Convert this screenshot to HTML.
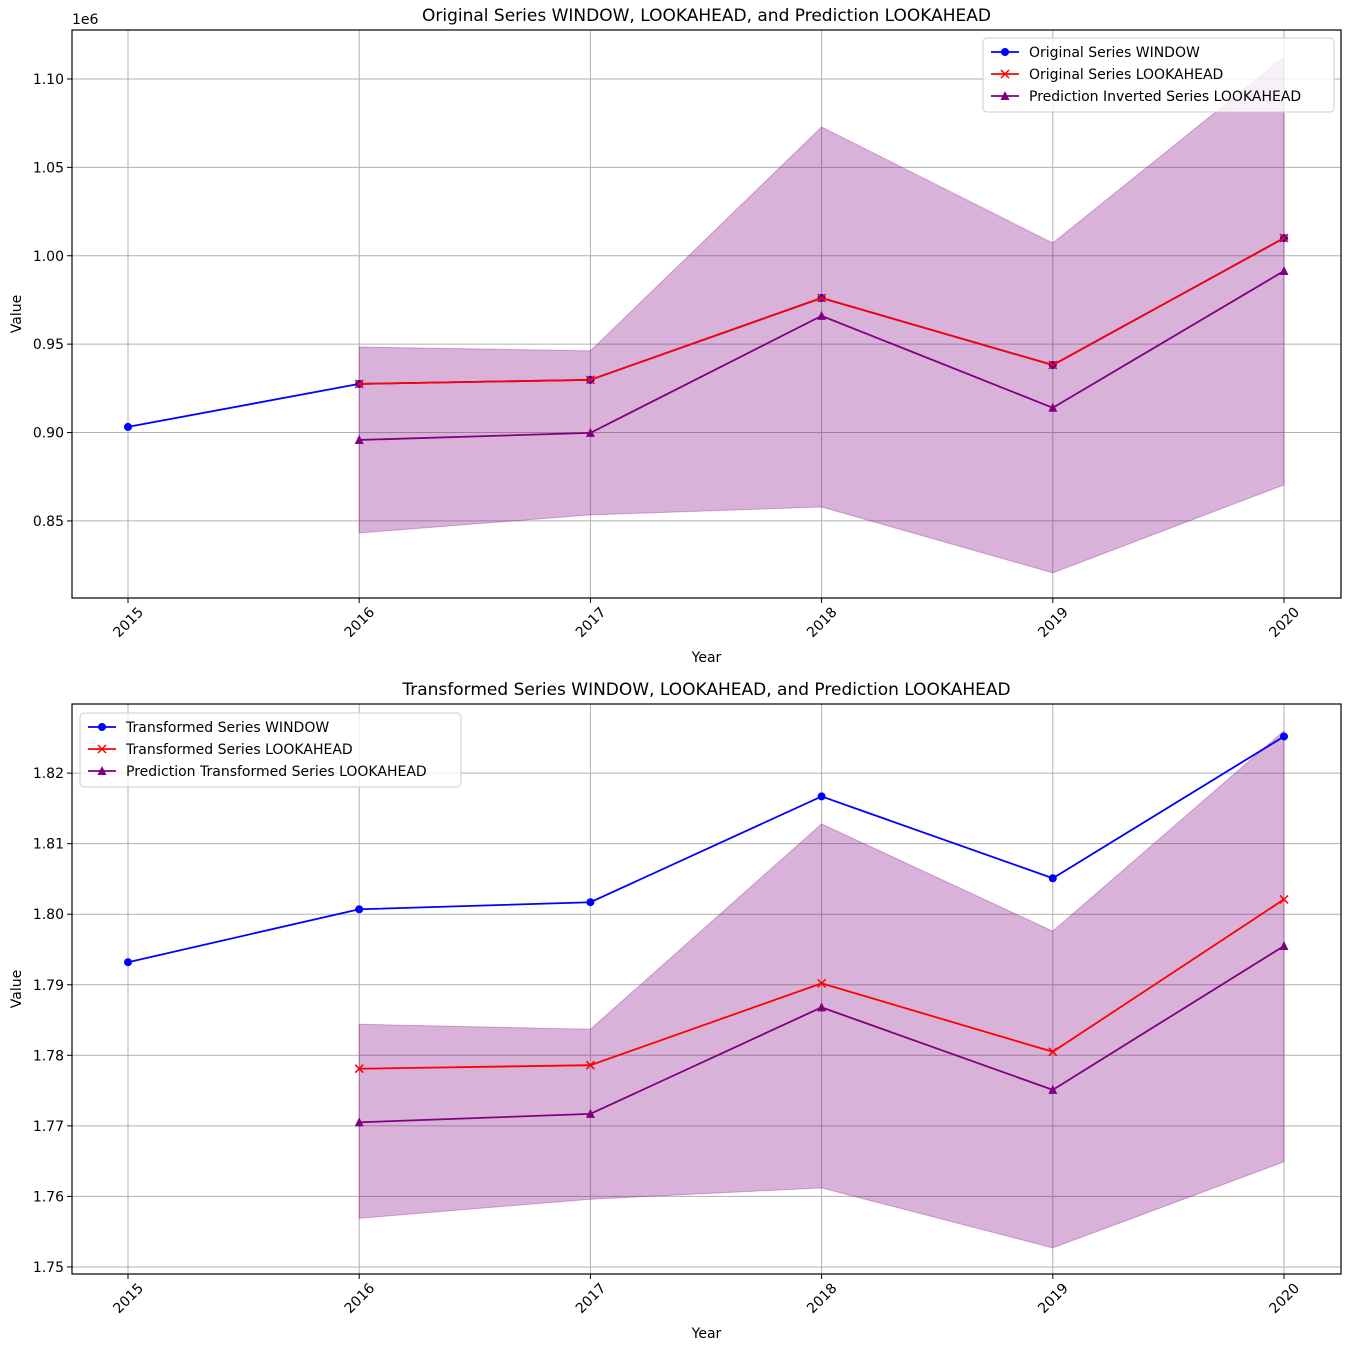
<!DOCTYPE html>
<html><head><meta charset="utf-8"><style>
html,body{margin:0;padding:0;background:#fff;}
svg text{font-family:"DejaVu Sans","Liberation Sans",sans-serif;fill:#000;}
</style></head><body>
<svg id="c" width="1350" height="1350" viewBox="0 0 1350 1350" xmlns="http://www.w3.org/2000/svg"></svg>
<script>
const years=[2015,2016,2017,2018,2019,2020];
const topWindow=[0.9032,0.9275,0.9298,0.9761,0.9382,1.010];
const topLook=[null,0.9275,0.9298,0.9761,0.9382,1.010];
const topPred=[null,0.8958,0.8998,0.966,0.914,0.9914];
const topUpper=[null,0.9484,0.9462,1.0728,1.0072,1.1124];
const topLower=[null,0.8432,0.8534,0.8579,0.8206,0.8704];
const topTicks=[0.85,0.90,0.95,1.00,1.05,1.10];
const botWindow=[1.7932,1.8007,1.8017,1.8167,1.8051,1.8252];
const botLook=[null,1.7781,1.7786,1.7902,1.7805,1.8021];
const botPred=[null,1.7705,1.7717,1.7868,1.7751,1.7955];
const botUpper=[null,1.7844,1.7837,1.8128,1.7976,1.8260];
const botLower=[null,1.7569,1.7596,1.7612,1.7527,1.7649];
const botTicks=[1.75,1.76,1.77,1.78,1.79,1.80,1.81,1.82];

const NS="http://www.w3.org/2000/svg";
const svg=document.getElementById('c');
function mk(tag,attrs,parent){const e=document.createElementNS(NS,tag);for(const k in attrs)e.setAttribute(k,attrs[k]);(parent||svg).appendChild(e);return e;}

function panel(o){
  const g=mk('g',{});
  
  
  const L=72,R=1341,T=o.top,B=o.bottom;
  const x=v=>128+(v-2015)*231.2;
  const y=v=>B-(v-o.ymin)/(o.ymax-o.ymin)*(B-T);
  years.forEach(yr=>{const l=mk('line',{x1:x(yr),x2:x(yr),y1:T,y2:B,stroke:'#b0b0b0','stroke-width':1},g);
    });
  o.ticks.forEach(t=>{const l=mk('line',{x1:L,x2:R,y1:y(t),y2:y(t),stroke:'#b0b0b0','stroke-width':1},g);
    });
  let pts=[];years.forEach((yr,i)=>{if(o.up[i]!=null)pts.push(x(yr)+','+y(o.up[i]));});
  for(let i=years.length-1;i>=0;i--){if(o.lo[i]!=null)pts.push(x(years[i])+','+y(o.lo[i]));}
  const band=mk('polygon',{points:pts.join(' '),fill:'rgba(128,0,128,0.3)',stroke:'rgba(128,0,128,0.3)','stroke-width':1},g);
  
  function series(arr,color,marker,nm){
    const p=[];years.forEach((yr,i)=>{if(arr[i]!=null)p.push([x(yr),y(arr[i])]);});
    const pl=mk('polyline',{points:p.map(a=>a.join(',')).join(' '),fill:'none',stroke:color,'stroke-width':1.8},g);
    
    p.forEach(a=>drawMarker(g,a[0],a[1],color,marker,nm));
  }
  series(o.win,'#0000ff','o',o.names[0]);
  series(o.look,'#ff0000','x',o.names[1]);
  series(o.pred,'#800080','^',o.names[2]);
  const fr=mk('rect',{x:L,y:T,width:R-L,height:B-T,fill:'none',stroke:'#000','stroke-width':1.2},g);
  
  years.forEach(yr=>{mk('line',{x1:x(yr),x2:x(yr),y1:B,y2:B+5,stroke:'#000'},g);
    const cx=x(yr),cy=B+24;
    const t=mk('text',{x:cx,y:cy+5,'font-size':14,'text-anchor':'middle',transform:`rotate(-45 ${cx} ${cy})`},g);
    t.textContent=yr;});
  o.ticks.forEach(v=>{mk('line',{x1:L-5,x2:L,y1:y(v),y2:y(v),stroke:'#000'},g);
    const t=mk('text',{x:L-8,y:y(v)+5,'font-size':14,'text-anchor':'end'},g);
    t.textContent=v.toFixed(2);});
  const tt=mk('text',{x:(L+R)/2,y:T-9,'font-size':17,'text-anchor':'middle'},g);tt.textContent=o.title;
  
  const xl=mk('text',{x:(L+R)/2,y:B+64,'font-size':14,'text-anchor':'middle'},g);xl.textContent='Year';
  
  const yl=mk('text',{x:0,y:0,'font-size':14,'text-anchor':'middle',transform:`translate(21 ${(T+B)/2}) rotate(-90)`},g);yl.textContent='Value';
  
  if(o.exp){const e=mk('text',{x:L,y:T-6,'font-size':14},g);e.textContent='1e6';
    }
  const lg=mk('g',{},g);
  mk('rect',{x:o.lx,y:o.ly,width:o.lw,height:74,rx:4,fill:'rgba(255,255,255,0.8)',stroke:'#ccc'},lg);
  const cols=['#0000ff','#ff0000','#800080'],mks=['o','x','^'];
  o.labels.forEach((lab,i)=>{const yy=o.ly+14+i*22;
    const en=mk('g',{},lg);
    mk('line',{x1:o.lx+8,x2:o.lx+36,y1:yy,y2:yy,stroke:cols[i],'stroke-width':1.8},en);
    drawMarker(en,o.lx+22,yy,cols[i],mks[i],'legend');
    const t=mk('text',{x:o.lx+46,y:yy+5,'font-size':14},en);t.textContent=lab;});
}
function drawMarker(g,cx,cy,color,m,nm){
  let e;
  if(m==='o')e=mk('circle',{cx,cy,r:4,fill:color},g);
  else if(m==='x')e=mk('path',{d:`M${cx-4} ${cy-4}L${cx+4} ${cy+4}M${cx-4} ${cy+4}L${cx+4} ${cy-4}`,stroke:color,'stroke-width':1.5},g);
  else e=mk('polygon',{points:`${cx},${cy-5} ${cx+4.5},${cy+4} ${cx-4.5},${cy+4}`,fill:color},g);
  
  
}
panel({name:'top-panel',top:30,bottom:598,ymin:0.8064,ymax:1.1277,ticks:topTicks,exp:true,
  win:topWindow,look:topLook,pred:topPred,up:topUpper,lo:topLower,
  names:['original-window','original-lookahead','prediction-inverted'],
  title:'Original Series WINDOW, LOOKAHEAD, and Prediction LOOKAHEAD',
  labels:['Original Series WINDOW','Original Series LOOKAHEAD','Prediction Inverted Series LOOKAHEAD'],lx:983,ly:38,lw:351});
panel({name:'bottom-panel',top:704,bottom:1274,ymin:1.7490,ymax:1.8298,ticks:botTicks,exp:false,
  win:botWindow,look:botLook,pred:botPred,up:botUpper,lo:botLower,
  names:['transformed-window','transformed-lookahead','prediction-transformed'],
  title:'Transformed Series WINDOW, LOOKAHEAD, and Prediction LOOKAHEAD',
  labels:['Transformed Series WINDOW','Transformed Series LOOKAHEAD','Prediction Transformed Series LOOKAHEAD'],lx:80,ly:713,lw:381});
</script>
</body></html>
